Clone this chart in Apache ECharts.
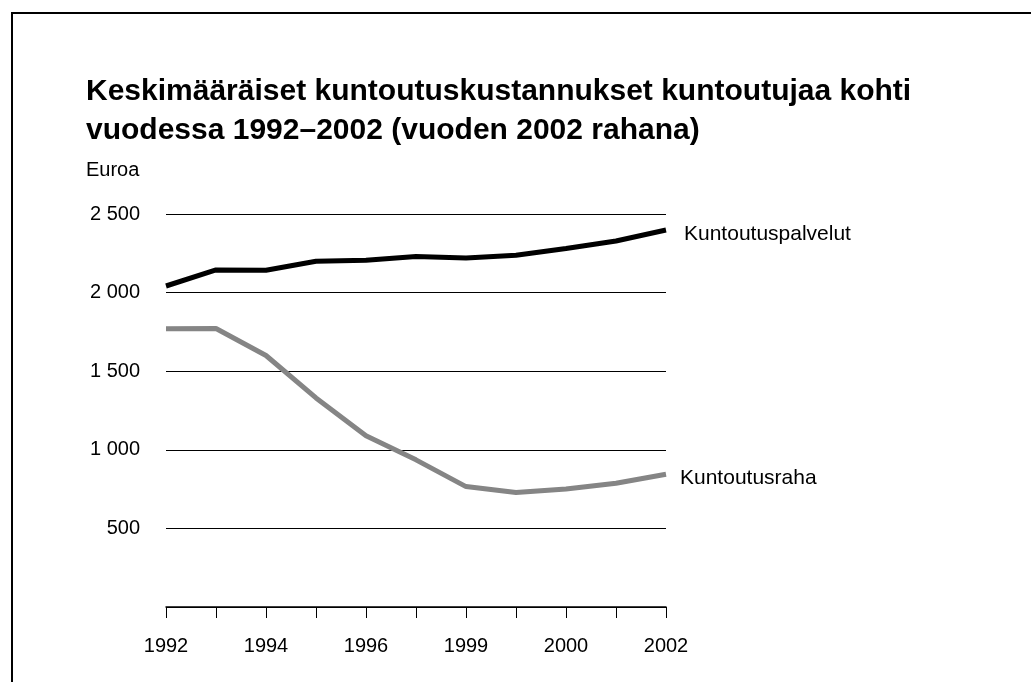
<!DOCTYPE html>
<html>
<head>
<meta charset="utf-8">
<script src="https://cdn.jsdelivr.net/npm/echarts@6/dist/echarts.min.js"></script>
<style>
  html, body { margin: 0; padding: 0; background: #fff; }
  #frame {
    position: absolute; left: 11px; top: 12px; width: 1020px; height: 670px;
    border-top: 2px solid #000; border-left: 2px solid #000;
  }
  #main { position: absolute; left: 0; top: 0; width: 1031px; height: 682px; }
</style>
</head>
<body>
<div id="frame"></div>
<div id="main"></div>
<script>
  // vuodet 1992–2002
  var years = ['1992', '1993', '1994', '1995', '1996', '1997', '1998', '1999', '2000', '2001', '2002'];
  // akselin tekstit kuten alkuperäisessä kuvassa
  var xTickLabels = ['1992', '', '1994', '', '1996', '', '1999', '', '2000', '', '2002'];
  var palvelut = [2042, 2144, 2142, 2199, 2206, 2229, 2220, 2237, 2280, 2328, 2398];
  var raha = [1770, 1772, 1600, 1330, 1089, 936, 766, 728, 751, 787, 845];
  var yTicks = [0, 500, 1000, 1500, 2000, 2500];

  var font = '"Liberation Sans", Arial, Helvetica, sans-serif';
  var chart = echarts.init(document.getElementById('main'));

  chart.setOption({
    animation: false,
    textStyle: { fontFamily: font },
    title: {
      text: 'Keskimääräiset kuntoutuskustannukset kuntoutujaa kohti\nvuodessa 1992–2002 (vuoden 2002 rahana)',
      left: 81,
      top: 67,
      textStyle: { fontFamily: font, fontSize: 30, fontWeight: 'bold', color: '#000', lineHeight: 39 }
    },
    grid: { left: 166, right: 365, top: 214, bottom: 75 },
    xAxis: {
      type: 'category',
      data: years,
      boundaryGap: false,
      axisLine: { lineStyle: { color: '#000', width: 1.5 } },
      axisTick: { show: true, interval: 0, length: 11, inside: false, lineStyle: { color: '#000', width: 1 } },
      axisLabel: {
        interval: 0,
        margin: 29,
        color: '#000',
        fontSize: 20,
        fontFamily: font,
        formatter: function (v, i) { return xTickLabels[i]; }
      },
      splitLine: { show: false }
    },
    yAxis: {
      type: 'value',
      min: yTicks[0],
      max: yTicks[yTicks.length - 1],
      interval: 500,
      name: 'Euroa',
      nameLocation: 'end',
      nameGap: 34,
      nameTextStyle: { color: '#000', fontSize: 20, fontFamily: font, align: 'left', padding: [0, 0, 0, -80] },
      axisLine: { show: false },
      axisTick: { show: false },
      axisLabel: {
        color: '#000',
        fontSize: 20,
        fontFamily: font,
        margin: 26,
        formatter: function (v) {
          if (v === 0) return '';
          return String(v).replace(/\B(?=(\d{3})+(?!\d))/g, ' ');
        }
      },
      splitLine: { show: true, lineStyle: { color: '#000', width: 1 } }
    },
    series: [
      {
        name: 'Kuntoutuspalvelut',
        type: 'line',
        data: palvelut,
        symbol: 'none',
        lineStyle: { color: '#000', width: 5 },
        endLabel: {
          show: true,
          formatter: '{a}',
          distance: 18,
          offset: [0, 4],
          color: '#000',
          fontSize: 21,
          fontFamily: font
        }
      },
      {
        name: 'Kuntoutusraha',
        type: 'line',
        data: raha,
        symbol: 'none',
        lineStyle: { color: '#858585', width: 5 },
        endLabel: {
          show: true,
          formatter: '{a}',
          distance: 14,
          offset: [0, 4],
          color: '#000',
          fontSize: 21,
          fontFamily: font
        }
      }
    ]
  });
</script>
</body>
</html>
